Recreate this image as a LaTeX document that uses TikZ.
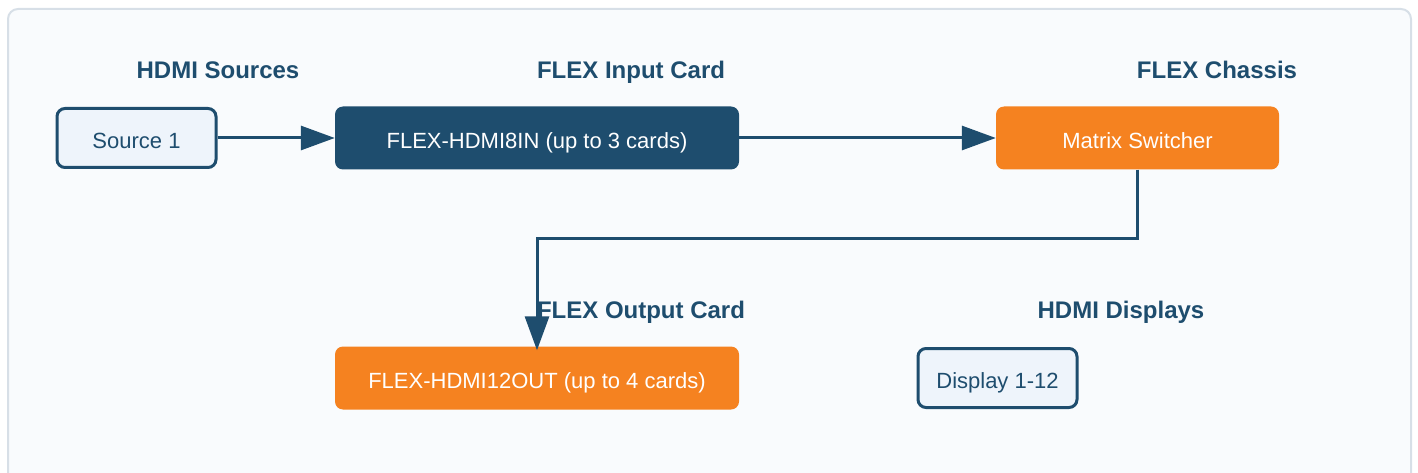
\documentclass[tikz,border=0pt]{standalone}
\usepackage{fontspec}
\setmainfont{Liberation Sans}
\usetikzlibrary{arrows.meta}

\definecolor{navy}{HTML}{1E4D6E}
\definecolor{flexorange}{HTML}{F58220}
\definecolor{paleblue}{HTML}{EEF4FB}
\definecolor{panelbg}{HTML}{F9FBFD}
\definecolor{panelline}{HTML}{D7DFE7}

\begin{document}
\begin{tikzpicture}[x=1pt,y=-1pt, >={Triangle[length=34pt,width=24pt]},
    head/.style={text=navy, font=\fontsize{24}{28}\selectfont\bfseries,
      text height=17.2pt, text depth=0pt},
    dev/.style={rectangle, rounded corners=8pt, draw=navy, line width=3pt,
      fill=paleblue, text=navy, minimum width=159pt, minimum height=59pt,
      font=\fontsize{22}{26}\selectfont, text height=20.8pt, text depth=0pt},
    card/.style={rectangle, rounded corners=8pt, text=white,
      minimum height=63pt, font=\fontsize{22}{26}\selectfont,
      text height=20.8pt, text depth=0pt},
    link/.style={->, draw=navy, line width=3pt}]
  \useasboundingbox (0,0) rectangle (1418,473);
  \draw[panelline, fill=panelbg, line width=2pt, rounded corners=10pt]
    (8,9) rectangle (1411,490);
  % column headings
  \node[head] (hsrc) at (218,70) {HDMI Sources};
  \node[head] (hin) at (631,70) {FLEX Input Card};
  \node[head] (hch) at (1217,70) {FLEX Chassis};
  \node[head] (hout) at (641,310) {FLEX Output Card};
  \node[head] (hdsp) at (1121,310) {HDMI Displays};
  % boxes
  \node[dev] (src) at (136.5,138) {Source 1};
  \node[card, fill=navy, minimum width=404pt] (in) at (537,138)
    {FLEX-HDMI8IN (up to 3 cards)};
  \node[card, fill=flexorange, minimum width=283pt] (mx) at (1137.5,138)
    {Matrix Switcher};
  \node[card, fill=flexorange, minimum width=404pt] (out) at (537,378)
    {FLEX-HDMI12OUT (up to 4 cards)};
  \node[dev] (dsp) at (997.5,378) {Display 1-12};
  % signal path
  \draw[link] (src) -- (in);
  \draw[link] (in) -- (mx);
  \draw[link] (mx.south) -- ++(0,69) -| ([yshift=-4pt]out.north);
\end{tikzpicture}
\end{document}
